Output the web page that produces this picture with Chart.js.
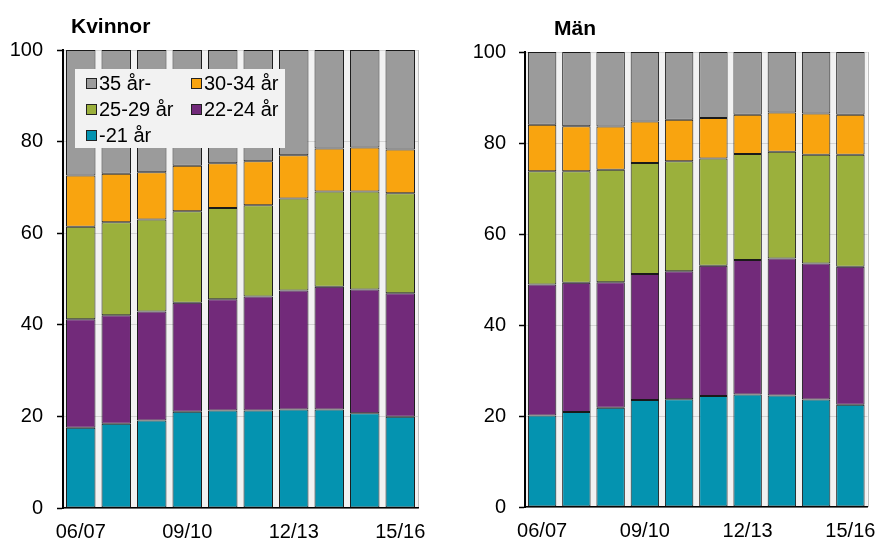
<!DOCTYPE html>
<html><head><meta charset="utf-8">
<script src="https://cdn.jsdelivr.net/npm/chart.js@4.4.1/dist/chart.umd.min.js"></script>
<style>
html,body{margin:0;padding:0;background:#fff;width:888px;height:540px;overflow:hidden}
#l{position:absolute;left:0;top:0}
#r{position:absolute;left:444px;top:0}
</style></head>
<body>
<canvas id="l" width="444" height="540"></canvas>
<canvas id="r" width="444" height="540"></canvas>
<script>
// ---- data ----
const categories = ['06/07','07/08','08/09','09/10','10/11','11/12','12/13','13/14','14/15','15/16'];
const tickLabels = ['06/07','09/10','12/13','15/16'];
const yTicks = [0, 20, 40, 60, 80, 100];
const seriesNames = ['-21 år','22-24 år','25-29 år','30-34 år','35 år-'];
const seriesColors = ['#0493b0','#722a7a','#9bb03c','#f9a40f','#9b9b9b'];

const kvinnorU21   = [17.5,18.4,19.1,21.0,21.3,21.3,21.5,21.5,20.7,19.9];
const kvinnor22_24 = [23.7,23.7,23.8,23.8,24.3,24.9,26.0,26.8,27.0,27.0];
const kvinnor25_29 = [20.2,20.3,20.1,20.0,19.9,19.9,20.1,20.8,21.4,21.8];
const kvinnor30_34 = [11.2,10.6,10.3,9.9,9.8,9.6,9.4,9.4,9.6,9.6];
const kvinnor35    = [27.4,27.0,26.7,25.3,24.7,24.3,23.0,21.5,21.3,21.7];

const manU21   = [20.1,20.9,21.8,23.5,23.7,24.4,24.7,24.5,23.6,22.5];
const man22_24 = [28.8,28.4,27.6,27.7,28.1,28.6,29.6,30.1,29.9,30.3];
const man25_29 = [24.9,24.5,24.7,24.4,24.2,23.6,23.3,23.5,23.9,24.6];
const man30_34 = [10.2,9.9,9.5,9.1,9.1,8.9,8.6,8.6,9.1,8.8];
const man35    = [16.0,16.3,16.4,15.3,14.9,14.5,13.8,13.3,13.5,13.8];

// ---- chart setup ----
const FONT = "'Liberation Sans', Arial, sans-serif";
Chart.defaults.font.family = FONT;
Chart.defaults.font.size = 20;
Chart.defaults.color = '#000';

const bgPlugin = {
  id: 'plotBg',
  beforeDraw(chart) {
    const {ctx, chartArea: a} = chart;
    ctx.save();
    ctx.fillStyle = '#f2f2f2';
    ctx.fillRect(a.left, a.top, a.right - a.left, a.bottom - a.top);
    ctx.strokeStyle = '#c0c0c0';
    ctx.lineWidth = 1;
    ctx.beginPath();
    ctx.moveTo(Math.round(a.right) + 0.5, a.top);
    ctx.lineTo(Math.round(a.right) + 0.5, a.bottom);
    ctx.stroke();
    ctx.restore();
  }
};

const titleLegendPlugin = {
  id: 'titleLegend',
  afterDraw(chart, args, opts) {
    const {ctx, chartArea: a} = chart;
    ctx.save();
    ctx.fillStyle = '#000';
    ctx.font = 'bold 21px ' + FONT;
    ctx.textBaseline = 'alphabetic';
    ctx.textAlign = 'left';
    ctx.fillText(opts.title, a.left + opts.titleX, opts.titleBaseline);
    if (opts.legend) {
      const bx = a.left + 12, by = a.top + 19, bw = 210, bh = 79;
      ctx.fillStyle = '#f2f2f2';
      ctx.fillRect(bx, by, bw, bh);
      const ds = chart.data.datasets.slice().reverse();
      ctx.font = '20px ' + FONT;
      ctx.textBaseline = 'middle';
      ds.forEach((d, i) => {
        const col = i % 2, row = Math.floor(i / 2);
        const sx = bx + 11 + col * 105;
        const cy = by + 14 + row * 26;
        ctx.fillStyle = d.backgroundColor;
        ctx.fillRect(sx, cy - 5, 10, 10);
        ctx.strokeStyle = '#222';
        ctx.lineWidth = 1;
        ctx.strokeRect(sx + 0.5, cy - 4.5, 10, 10);
        ctx.fillStyle = '#000';
        ctx.fillText(d.label, sx + 13, cy + 1);
      });
    }
    ctx.restore();
  }
};

function makeChart(id, series, cfg) {
  return new Chart(document.getElementById(id), {
    type: 'bar',
    data: {
      labels: categories,
      datasets: series.map((vals, i) => ({
        label: seriesNames[i],
        data: vals,
        backgroundColor: seriesColors[i],
        borderColor: '#1a1a1a',
        borderWidth: 1,
        borderSkipped: false,
        barPercentage: 0.83,
        categoryPercentage: 1.0
      }))
    },
    options: {
      responsive: false,
      animation: false,
      layout: {padding: {left: 0, right: cfg.padRight, top: cfg.padTop, bottom: 0}},
      plugins: {
        legend: {display: false},
        title: {display: false},
        tooltip: {enabled: false},
        titleLegend: {title: cfg.title, titleX: cfg.titleX, titleBaseline: cfg.titleBaseline, legend: cfg.legend}
      },
      scales: {
        x: {
          stacked: true,
          grid: {display: false, drawTicks: false},
          border: {display: true, color: '#000', width: 1.5},
          ticks: {
            autoSkip: false, maxRotation: 0, padding: 12,
            callback: (v, i) => tickLabels.includes(categories[i]) ? categories[i] : ''
          },
          afterFit: s => { s.height = cfg.xHeight; }
        },
        y: {
          stacked: true,
          min: yTicks[0], max: yTicks[yTicks.length - 1],
          afterBuildTicks: s => { s.ticks = yTicks.map(v => ({value: v})); },
          grid: {color: '#d4d4d4', lineWidth: 1, tickColor: '#000', tickLength: 6, tickWidth: 1.5},
          border: {display: true, color: '#000', width: 2},
          ticks: {padding: cfg.yPad},
          afterFit: s => { s.width = cfg.axisWidth; }
        }
      }
    },
    plugins: [bgPlugin, titleLegendPlugin]
  });
}

makeChart('l', [kvinnorU21, kvinnor22_24, kvinnor25_29, kvinnor30_34, kvinnor35],
  {title: 'Kvinnor', titleX: 8, titleBaseline: 33, legend: true,
   axisWidth: 63, padRight: 26, padTop: 50, xHeight: 32, yPad: 14});
makeChart('r', [manU21, man22_24, man25_29, man30_34, man35],
  {title: 'Män', titleX: 29, titleBaseline: 35, legend: false,
   axisWidth: 81, padRight: 12, padTop: 52, xHeight: 33, yPad: 13});
</script>
</body></html>
